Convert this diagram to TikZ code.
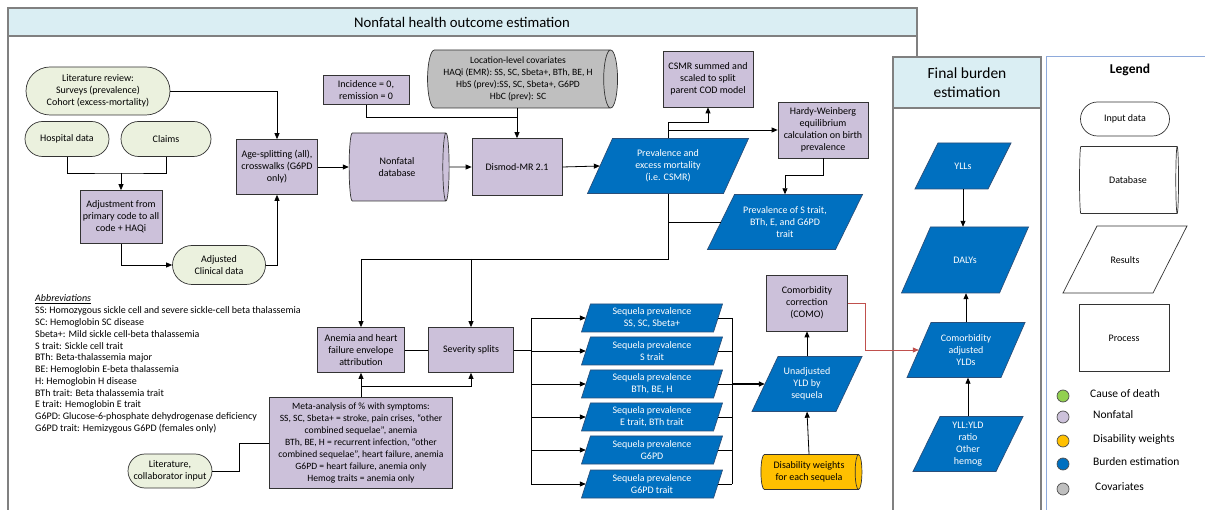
\documentclass[tikz,border=0pt]{standalone}
\usepackage{fontspec}
\setmainfont{Carlito}
\usepackage{tikz}
\usetikzlibrary{shapes.geometric, shapes.misc, arrows.meta}

\definecolor{nfpurple}{HTML}{CCC1DA}
\definecolor{inputgreen}{HTML}{EBF1DE}
\definecolor{resblue}{HTML}{0070C0}
\definecolor{resedge}{HTML}{2A4F7A}
\definecolor{covgray}{HTML}{BFBFBF}
\definecolor{dwgold}{HTML}{FFC000}
\definecolor{codgreen}{HTML}{92D050}
\definecolor{bandblue}{HTML}{DAEEF3}
\definecolor{framegray}{HTML}{808080}
\definecolor{legendblue}{HTML}{8EAADB}
\definecolor{comored}{HTML}{C0504D}

\begin{document}
\begin{tikzpicture}[x=1pt, y=-1pt,
  every node/.style={font=\fontsize{10}{12}\selectfont, align=center},
  input/.style={rounded rectangle, draw=black!80, line width=0.7pt, fill=inputgreen, inner sep=1pt},
  process/.style={rectangle, draw=black!80, line width=0.7pt, fill=nfpurple, inner sep=1pt},
  database/.style={cylinder, draw=black!80, line width=0.7pt, aspect=0.3, inner sep=1pt},
  resshape/.style={draw=resedge, line width=0.7pt, fill=resblue},
  restext/.style={text=white, inner sep=0pt},
  conn/.style={draw=black, line width=0.8pt},
  arr/.style={conn, -{Triangle[length=6pt,width=5pt]}},
  frame/.style={draw=framegray, line width=1.5pt}]
  \useasboundingbox (0,0) rectangle (1205,510);
  \clip (0,0) rectangle (1205,510);
  % frames
  \fill[bandblue] (8,8) rectangle (917,36);
  \draw[frame] (8,36) -- (917,36);
  \draw[frame] (8,530) -- (8,8) -- (917,8) -- (917,60);
  \node[font=\fontsize{14.7}{17}\selectfont] (title) at (462,22) {Nonfatal health outcome estimation};
  \filldraw[frame, fill=white] (893,57) rectangle (1041,530);
  \filldraw[frame, fill=bandblue] (893,57) rectangle (1041,108);
  \node[font=\fontsize{15.5}{19}\selectfont] (finaltitle) at (967,83) {Final burden\\estimation};
  \draw[draw=legendblue, line width=1pt] (1046,57) rectangle (1225,530);

  % input data
  \node[input, minimum width=146, minimum height=48] (litrev) at (98,91) {Literature review:\\Surveys (prevalence)\\Cohort (excess-mortality)};
  \node[input, minimum width=86, minimum height=35] (hosp) at (67,139) {Hospital data};
  \node[input, minimum width=92, minimum height=35] (claims) at (166,139) {Claims};
  \node[input, minimum width=95, minimum height=39] (adjclin) at (219,265) {Adjusted\\Clinical data};
  \node[input, minimum width=86, minimum height=34] (litcol) at (170,471) {Literature,\\collaborator input};

  % processes
  \node[process, minimum width=82, minimum height=53] (adjust) at (121,217) {Adjustment from\\primary code to all\\code + HAQi};
  \node[process, minimum width=81, minimum height=55] (agesplit) at (277,167) {Age-splitting (all),\\crosswalks (G6PD\\only)};
  \node[process, minimum width=86, minimum height=29] (incid) at (366,90) {Incidence = 0,\\remission = 0};
  \node[process, minimum width=90, minimum height=57] (dismod) at (517,167) {Dismod-MR 2.1};
  \node[process, minimum width=90, minimum height=56] (csmr) at (708,79) {CSMR summed and\\scaled to split\\parent COD model};
  \node[process, minimum width=90, minimum height=56] (hardy) at (823,130) {Hardy-Weinberg\\equilibrium\\calculation on birth\\prevalence};
  \node[process, minimum width=81, minimum height=56] (como) at (807,303) {Comorbidity\\correction\\(COMO)};
  \node[process, minimum width=87, minimum height=45] (anemia) at (361,350) {Anemia and heart\\failure envelope\\attribution};
  \node[process, minimum width=85, minimum height=45] (severity) at (471,350) {Severity splits};
  \node[process, minimum width=183, minimum height=91, font=\fontsize{9.6}{12}\selectfont] (meta) at (361,443) {Meta-analysis of \% with symptoms:\\SS, SC, Sbeta+ = stroke, pain crises, “other\\combined sequelae”, anemia\\BTh, BE, H = recurrent infection, “other\\combined sequelae”, heart failure, anemia\\G6PD = heart failure, anemia only\\Hemog traits = anemia only};

  % databases (cylinder: height runs along the axis)
  \node[database, fill=nfpurple, minimum height=100, minimum width=68] (nfdb) at (397,167) {Nonfatal\\database};
  \node[database, fill=covgray, minimum height=190, minimum width=58, font=\fontsize{9.6}{12}\selectfont] (covar) at (518,79) {Location-level covariates\\HAQi (EMR): SS, SC, Sbeta+, BTh, BE, H\\HbS (prev):SS, SC, Sbeta+, G6PD\\HbC (prev): SC};
  \node[database, fill=dwgold, minimum height=101, minimum width=35] (dweight) at (809,472) {Disability weights\\for each sequela};

  % results
  \foreach \nm/\x/\y/\w/\h/\s/\txt in {
    prevexc/668/166/136/55/12.5/{Prevalence and\\excess mortality\\(i.e. CSMR)},
    strait/785/222/128/55/13.5/{Prevalence of S trait,\\BTh, E, and G6PD\\trait},
    unadj/807/384/84/55/13/{Unadjusted\\YLD by\\sequela},
    ylls/963/166/73/46/11.5/YLLs,
    dalys/965/260/98/66/14.5/DALYs,
    compadj/966/350/94/55/12/{Comorbidity\\adjusted\\YLDs},
    yllratio/968/444/83/55/13.5/{YLL:YLD\\ratio\\Other\\hemog}}
  {
    \filldraw[resshape] (\x-\w/2+\s,\y-\h/2) -- (\x+\w/2+\s,\y-\h/2) -- (\x+\w/2-\s,\y+\h/2) -- (\x-\w/2-\s,\y+\h/2) -- cycle;
    \node[restext, minimum width=\w, minimum height=\h] (\nm) at (\x,\y) {\txt};
  }
  \foreach \i/\y/\txt in {1/318/{SS, SC, Sbeta+}, 2/351/S trait, 3/384/{BTh, BE, H},
    4/417/{E trait, BTh trait}, 5/450/G6PD, 6/484/G6PD trait}
  {
    \filldraw[resshape] (652-66+4.5,\y-14) -- (652+66+4.5,\y-14) -- (652+66-4.5,\y+14) -- (652-66-4.5,\y+14) -- cycle;
    \node[restext, minimum width=132, minimum height=28] (seq\i) at (652,\y) {Sequela prevalence\\\txt};
  }

  % connectors
  \draw[arr] (litrev.east) -| (agesplit.north);
  \coordinate (hcjoin) at (121,173);
  \draw[conn] (hosp.south) |- (hcjoin) -| (claims.south);
  \draw[arr] (hcjoin) -- (adjust.north);
  \draw[arr] (adjust.south) |- (adjclin.west);
  \draw[arr] (adjclin.east) -| (agesplit.south);
  \draw[arr] (agesplit.east) -- (nfdb.west);
  \draw[arr] (nfdb.east) -- (dismod.west);
  \coordinate (ivjoin) at (517,117);
  \draw[conn] (incid.south) |- (ivjoin);
  \draw[arr] (covar.south -| dismod.north) -- (dismod.north);
  \draw[arr] (dismod.east) -- (prevexc.west);
  \coordinate (csjoin) at (708,122);
  \draw[arr] (prevexc.north) |- (csjoin) -- (csmr.south);
  \draw[arr] (prevexc.north |- hardy.west) -- (hardy.west);
  \coordinate (hwjoin) at (785,175);
  \draw[arr] (hardy.south) |- (hwjoin) -- (strait.north);
  \coordinate (pbus) at (668,259);
  \draw[conn] (prevexc.south) -- (pbus) -- (pbus -| anemia.north);
  \draw[conn] (strait.west) -- (strait.west -| pbus);
  \draw[arr] (pbus -| anemia.north) -- (anemia.north);
  \draw[arr] (pbus -| severity.north) -- (severity.north);
  \draw[conn] (anemia.east) -- (severity.west);
  \draw[arr] (meta.north) -- (anemia.south);
  \coordinate (mjoin) at (361,386);
  \draw[arr] (mjoin) -| (severity.south);
  \draw[conn] (litcol.east) -- ++(27,0) |- (meta.west);
  \coordinate (sbus) at (531,350);
  \draw[conn] (severity.east) -- (sbus);
  \draw[conn] (sbus |- seq1.west) -- (sbus |- seq6.west);
  \coordinate (cbus) at (732,384);
  \draw[conn] (cbus |- seq1.east) -- (cbus |- seq6.east);
  \foreach \i in {1,...,6} {
    \draw[arr] (sbus |- seq\i.west) -- (seq\i.west);
    \draw[conn] (seq\i.east) -- (cbus |- seq\i.east);
  }
  \draw[arr, line width=1.3pt] (cbus) -- (unadj.west);
  \draw[arr] (unadj.north) -- (como.south);
  \draw[arr] (dweight.north) -- (unadj.south);
  \draw[arr, draw=comored] (como.east) -- ++(18,0) |- (compadj.west);
  \draw[arr] (ylls.south) -- (ylls.south |- dalys.north);
  \draw[arr] (compadj.north) -- (compadj.north |- dalys.south);
  \draw[arr] (yllratio.north) -- (yllratio.north |- compadj.south);

  % abbreviations
  \node[anchor=west, inner sep=0pt] (abbrhead) at (35,299) {\underline{\textit{Abbreviations}}};
  \foreach \n/\t in {1/SS: Homozygous sickle cell and severe sickle-cell beta thalassemia,
    2/SC: Hemoglobin SC disease, 3/Sbeta+: Mild sickle cell-beta thalassemia,
    4/S trait: Sickle cell trait, 5/BTh: Beta-thalassemia major,
    6/BE: Hemoglobin E-beta thalassemia, 7/H: Hemoglobin H disease,
    8/BTh trait: Beta thalassemia trait, 9/E trait: Hemoglobin E trait,
    10/G6PD: Glucose-6-phosphate dehydrogenase deficiency,
    11/G6PD trait: Hemizygous G6PD (females only)}
    \node[anchor=west, inner sep=0pt] (abbr\n) at (35,299+\n*11.8) {\t};

  % legend
  \node[font=\fontsize{13.5}{16}\selectfont\bfseries] (legtitle) at (1130,70) {Legend};
  \node[input, fill=white, minimum width=91, minimum height=34] (leginput) at (1125,119) {Input data};
  \node[database, fill=white, minimum height=99, minimum width=67] (legdb) at (1128,180) {Database};
  \filldraw[draw=black!80, line width=0.7pt, fill=white] (1097,226) -- (1187,226) -- (1153,293) -- (1063,293) -- cycle;
  \node (legres) at (1125,260) {Results};
  \node[process, fill=white, minimum width=90, minimum height=67] (legproc) at (1124,338) {Process};
  \foreach \c/\y/\lx/\lbl in {codgreen/396/1090/Cause of death, nfpurple/417/1093/Nonfatal,
    dwgold/441/1093/Disability weights, resblue/464/1093/Burden estimation, covgray/489/1095/Covariates}
  {
    \node[circle, draw=black!70, line width=0.7pt, fill=\c, minimum size=12, inner sep=0pt] (dot\c) at (1063,\y) {};
    \node[anchor=west, inner sep=0pt, font=\fontsize{11.5}{14}\selectfont] (lbl\c) at (\lx,\y-2) {\lbl};
  }
\end{tikzpicture}
\end{document}
